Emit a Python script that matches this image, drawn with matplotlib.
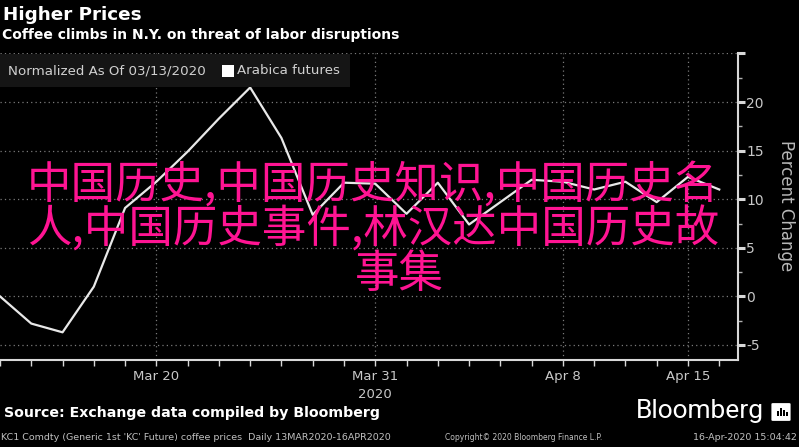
import matplotlib
matplotlib.use("Agg")
import matplotlib.pyplot as plt
from matplotlib.patches import Rectangle, FancyBboxPatch

# trading days 13MAR2020-16APR2020 (KC1 Comdty), normalized % change
dates = ["Mar 13", "Mar 16", "Mar 17", "Mar 18", "Mar 19", "Mar 20",
         "Mar 23", "Mar 24", "Mar 25", "Mar 26", "Mar 27", "Mar 30",
         "Mar 31", "Apr 1", "Apr 2", "Apr 3", "Apr 6", "Apr 7",
         "Apr 8", "Apr 9", "Apr 13", "Apr 14", "Apr 15", "Apr 16"]
values = [0.0, -2.8, -3.7, 1.0, 9.1, 11.8,
          14.9, 18.3, 21.5, 16.3, 8.4, 11.7,
          11.6, 8.5, 11.7, 7.4, 9.7, 12.0,
          11.8, 11.0, 11.8, 9.7, 12.3, 11.0]
xtick_dates = ["Mar 20", "Mar 31", "Apr 8", "Apr 15"]
xtick_labels = ["Mar 20", "Mar 31\n2020", "Apr 8", "Apr 15"]
yticks = [-5, 0, 5, 10, 15, 20, 25]
ytick_labels = ["-5", "0", "5", "10", "15", "20", ""]

W, H = 799, 447
def fx(px):
    return px / W
def fy(py):
    return 1 - py / H

fig = plt.figure(figsize=(W / 100, H / 100), dpi=100, facecolor="black")
ax = fig.add_axes([0, fy(360), fx(738), (360 - 53) / H])
ax.set_facecolor("black")

x = list(range(len(dates)))
ax.plot(x, values, color="#e8e8e8", lw=1.6, zorder=3)
ax.set_xlim(0, 23.6)
ax.set_ylim(-6.55, 25.05)

for s in ["left", "top"]:
    ax.spines[s].set_visible(False)
for s in ["right", "bottom"]:
    ax.spines[s].set_color("#d8d8d8")
    ax.spines[s].set_linewidth(1.5)

ax.yaxis.tick_right()
ax.set_yticks(yticks, ytick_labels)
ax.set_yticks([v + 2.5 for v in yticks[:-1]], minor=True)
ax.tick_params(axis="y", which="major", direction="out", length=5, width=2.2,
               color="#d8d8d8", labelcolor="#c8c8c8", labelsize=10, pad=1)
ax.tick_params(axis="y", which="minor", direction="out", length=3, width=1,
               color="#b0b0b0")

ax.set_xticks([dates.index(d) for d in xtick_dates], xtick_labels)
ax.set_xticks(x, minor=True)
ax.tick_params(axis="x", which="both", direction="out", length=4, width=1,
               color="#d8d8d8", labelcolor="#c8c8c8", labelsize=9.5, pad=3)
for t in ax.get_xticklabels():
    t.set_linespacing(1.5)

ax.grid(True, which="major", color="#7a7a7a", ls=(0, (1, 2.5)), lw=0.9)

fig.text(fx(786), fy(206), "Percent Change", rotation=270, ha="center",
         va="center", color="#b8b8b8", fontsize=12)

# legend strip
fig.add_artist(Rectangle((0, fy(87)), fx(350), 33 / H, transform=fig.transFigure,
                         facecolor="#151515", edgecolor="none", zorder=5))
fig.add_artist(Rectangle((fx(222), fy(77)), fx(12), 12 / H, transform=fig.transFigure,
                         facecolor="white", edgecolor="none", zorder=6))
fig.text(fx(8), fy(71), "Normalized As Of 03/13/2020", color="#d0d0d0",
         fontsize=9.6, va="center", zorder=6)
fig.text(fx(237), fy(71), "Arabica futures", color="#d0d0d0",
         fontsize=9.6, va="center", zorder=6)

# titles
fig.text(fx(3), fy(15), "Higher Prices", color="white", fontsize=13.2,
         fontweight="bold", va="center")
fig.text(fx(2), fy(35), "Coffee climbs in N.Y. on threat of labor disruptions",
         color="white", fontsize=10, fontweight="bold", va="center")

# overlay text
pink = "#ff1493"
cjk = ["Noto Sans CJK SC", "DejaVu Sans"]
fig.text(fx(373), fy(186), "中国历史,中国历史知识,中国历史名", color=pink,
         fontsize=32, family=cjk, ha="center", va="center", zorder=10)
fig.text(fx(373), fy(230), "人,中国历史事件,林汉达中国历史故", color=pink,
         fontsize=32, family=cjk, ha="center", va="center", zorder=10)
fig.text(fx(399), fy(274), "事集", color=pink,
         fontsize=32, family=cjk, ha="center", va="center", zorder=10)

# footer
fig.text(fx(4), fy(413), "Source: Exchange data compiled by Bloomberg",
         color="white", fontsize=10.2, fontweight="bold", va="center")
fig.text(fx(764), fy(411), "Bloomberg", color="white", fontsize=19,
         family="Roboto", ha="right", va="center")
fig.add_artist(FancyBboxPatch((fx(773), fy(420)), fx(16), 16 / H,
                              boxstyle="round,pad=0.002", transform=fig.transFigure,
                              facecolor="white", edgecolor="none"))
for bx, bh in [(777, 5), (780, 8), (783, 6), (786, 4)]:
    fig.add_artist(Rectangle((fx(bx), fy(416)), fx(1.8), bh / H,
                             transform=fig.transFigure, facecolor="black",
                             edgecolor="none", zorder=6))
fig.text(fx(1), fy(438), "KC1 Comdty (Generic 1st 'KC' Future) coffee prices  Daily 13MAR2020-16APR2020",
         color="#c0c0c0", fontsize=6.8, va="center")
fig.text(fx(445), fy(438), "Copyright© 2020 Bloomberg Finance L.P.",
         color="#c0c0c0", fontsize=5.5, va="center")
fig.text(fx(797), fy(438), "16-Apr-2020 15:04:42",
         color="#c0c0c0", fontsize=6.8, ha="right", va="center")

fig.savefig("out.png", dpi=100, facecolor="black")
